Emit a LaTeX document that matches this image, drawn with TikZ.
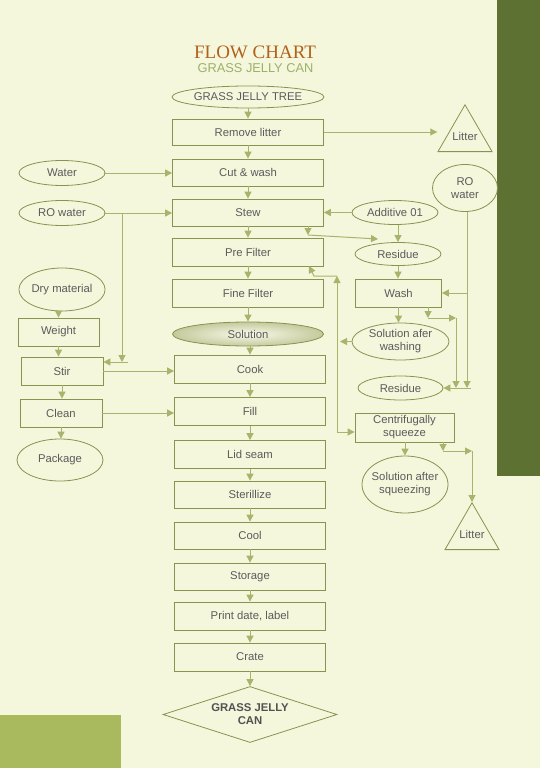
\documentclass[tikz,border=0pt]{standalone}
\usepackage{fontspec}
\setmainfont{Liberation Sans}
\newfontfamily\titlefont{Liberation Serif}
\usetikzlibrary{arrows.meta, shapes.geometric}
\definecolor{pageCream}{HTML}{F4F7DC}
\definecolor{barGreen}{HTML}{5D7232}
\definecolor{blockOlive}{HTML}{A9B95D}
\definecolor{lineOlive}{HTML}{A7B46B}
\definecolor{edgeOlive}{HTML}{8A924F}
\definecolor{inkGray}{HTML}{5B5B5B}
\definecolor{titleBrown}{HTML}{B1611E}
\definecolor{subGreen}{HTML}{9DAF6C}
\tikzset{
  procbox/.style={draw=edgeOlive, line width=0.8pt, rectangle, inner sep=0pt,
    minimum width=151pt, minimum height=28pt, text=inkGray,
    font=\fontsize{11.3}{13}\selectfont, align=center},
  oval/.style={procbox, ellipse},
  tri/.style={draw=edgeOlive, line width=0.8pt, regular polygon,
    regular polygon sides=3, minimum size=62.4pt, inner sep=0pt,
    label={[text=inkGray, font=\fontsize{11.3}{13}\selectfont]center:#1}},
  decide/.style={procbox, diamond, aspect=3, text=inkGray!90!black,
    font=\fontsize{11.3}{13}\selectfont\bfseries},
  flow/.style={draw=lineOlive, line width=1pt, -{Triangle[length=7pt, width=7pt]}}
}
\begin{document}
\begin{tikzpicture}[x=1pt, y=-1pt]
    \useasboundingbox (0,0) rectangle (540,768);
    % page
    \fill[pageCream] (0,0) rectangle (540,768);
    \fill[barGreen] (497,0) rectangle (540,476);
    \fill[blockOlive] (0,715) rectangle (121,768);
    % title
    \node[text=titleBrown, font=\titlefont\fontsize{19}{21}\selectfont] (title) at (255,52) {FLOW CHART};
    \node[text=subGreen, font=\fontsize{12.8}{14}\selectfont] (subtitle) at (255.5,68.5) {GRASS JELLY CAN};
    % main line
    \node[oval, minimum width=152pt, minimum height=22pt, inner xsep=-12pt] (tree) at (248,97) {GRASS JELLY TREE};
    \node[procbox, minimum height=26pt] (rmlit) at (248,132) {Remove litter};
    \node[procbox, minimum height=27pt] (cutw) at (248,172.5) {Cut \& wash};
    \node[procbox, minimum height=27pt] (stew) at (248,212.5) {Stew};
    \node[procbox] (prefil) at (248,252) {Pre Filter};
    \node[procbox] (finefil) at (248,293) {Fine Filter};
    \node[oval, minimum height=24pt, inner color=pageCream!60!white, outer color=edgeOlive!45!pageCream] (sol) at (248,334) {Solution};
    \node[procbox] (cook) at (250,369) {Cook};
    \node[procbox] (fill) at (250,411.5) {Fill};
    \node[procbox] (lid) at (250,454.5) {Lid seam};
    \node[procbox, minimum height=27pt] (steril) at (250,494.5) {Sterillize};
    \node[procbox, minimum height=27pt] (cool) at (250,535.5) {Cool};
    \node[procbox, minimum height=27pt] (stor) at (250,576.5) {Storage};
    \node[procbox] (print) at (250,616) {Print date, label};
    \node[procbox] (crate) at (250,657) {Crate};
    \node[decide, minimum width=174pt, minimum height=56pt] (can) at (250,714.5) {GRASS JELLY\\CAN};
    % left side
    \node[oval, minimum width=86pt, minimum height=25pt] (water) at (62,173) {Water};
    \node[oval, minimum width=86pt, minimum height=25pt] (rol) at (62,213) {RO water};
    \node[oval, minimum width=86pt, minimum height=43pt] (dry) at (62,289.5) {Dry material};
    \node[procbox, minimum width=81pt] (weight) at (58.5,332) {Weight};
    \node[procbox, minimum width=82pt] (stir) at (62,371) {Stir};
    \node[procbox, minimum width=82pt] (clean) at (61,413) {Clean};
    \node[oval, minimum width=86pt, minimum height=42pt] (pack) at (60,460) {Package};
    % right side
    \node[tri=Litter] (lit1) at (465,136) {};
    \node[oval, minimum width=65pt, minimum height=47pt] (ror) at (465,188) {RO\\water};
    \node[oval, minimum width=86pt, minimum height=24pt] (add) at (395,212.5) {Additive 01};
    \node[oval, minimum width=86pt, minimum height=23pt] (res1) at (398,254) {Residue};
    \node[procbox, minimum width=86pt] (wash) at (398.5,293) {Wash};
    \node[oval, minimum width=97pt, minimum height=37pt] (solw) at (400.5,341.5) {Solution afer\\washing};
    \node[oval, minimum width=85pt, minimum height=24pt] (res2) at (400.5,388) {Residue};
    \node[procbox, minimum width=99pt, minimum height=29pt] (cent) at (404.5,427.5) {Centrifugally\\squeeze};
    \node[oval, minimum width=86pt, minimum height=57pt, inner xsep=-4pt] (sols) at (405,484.5) {Solution after\\squeezing};
    \node[tri=Litter] (lit2) at (472,534) {};
    % main arrows
    \foreach \a/\b in {tree/rmlit, rmlit/cutw, cutw/stew, stew/prefil, prefil/finefil,
      finefil/sol, sol/cook, cook/fill, fill/lid, lid/steril, steril/cool,
      cool/stor, stor/print, print/crate, crate/can}
      \draw[flow] (\b.north |- \a.south) -- (\b.north);
    % left arrows
    \draw[flow] (water.east) -- (water.east -| cutw.west);
    \draw[flow] (rol.east) -- (rol.east -| stew.west);
    \coordinate (rodrop) at (122,362);
    \coordinate (rotail) at (128,362);
    \draw[flow] (rol.east -| rodrop) -- (rodrop);
    \draw[flow] (rotail) -- (rotail -| stir.east);
    \draw[flow] (weight.north |- dry.south) -- (weight.north);
    \draw[flow] (weight.south) -- (weight.south |- stir.north);
    \draw[flow] (stir.south) -- (stir.south |- clean.north);
    \draw[flow] (clean.south) -- (clean.south |- pack.north);
    \draw[flow] (stir.east) -- (stir.east -| cook.west);
    \draw[flow] (clean.east) -- (clean.east -| fill.west);
    % right arrows
    \draw[flow] (rmlit.east) -- (rmlit.east -| lit1.corner 2);
    \draw[flow] (add.west) -- (add.west -| stew.east);
    \draw[flow] (res1.north |- add.south) -- (res1.north);
    \coordinate (stewtap) at (308,235);
    \coordinate (res1in) at (378,239);
    \draw[flow] (stew.south -| stewtap) -- (stewtap);
    \draw[flow] (stewtap) -- (res1in);
    \draw[flow] (res1.south) -- (res1.south |- wash.north);
    \coordinate (rodown) at (467,388);
    \coordinate (res2tail) at (471,388);
    \draw[flow] (ror.south -| rodown) -- (rodown);
    \draw[flow] (rodown |- wash.east) -- (wash.east);
    \draw[flow] (res2tail) -- (res2.east);
    \draw[flow] (wash.south) -- (wash.south |- solw.north);
    \coordinate (washtap) at (428,318);
    \coordinate (washturn) at (456,318);
    \draw[flow] (wash.south -| washtap) -- (washtap);
    \draw[flow] (washtap) -- (washturn);
    \draw[flow] (washturn) -- (washturn |- res2.east);
    \coordinate (solwout) at (340,341.5);
    \draw[flow] (solw.west) -- (solwout);
    \coordinate (risetop) at (337,276);
    \coordinate (risebot) at (337,432);
    \coordinate (prefilin) at (309,266);
    \draw[flow] (risebot) -- (risetop);
    \draw[flow] (risebot) -- (risebot -| cent.west);
    \draw[flow] (risetop) -- (314,276) -- (prefilin);
    \draw[flow] (sols.north |- cent.south) -- (sols.north);
    \coordinate (centtap) at (443,451);
    \coordinate (centturn) at (472,451);
    \draw[flow] (cent.south -| centtap) -- (centtap);
    \draw[flow] (centtap) -- (centturn);
    \draw[flow] (centturn) -- (lit2.north);
  \end{tikzpicture}
\end{document}
